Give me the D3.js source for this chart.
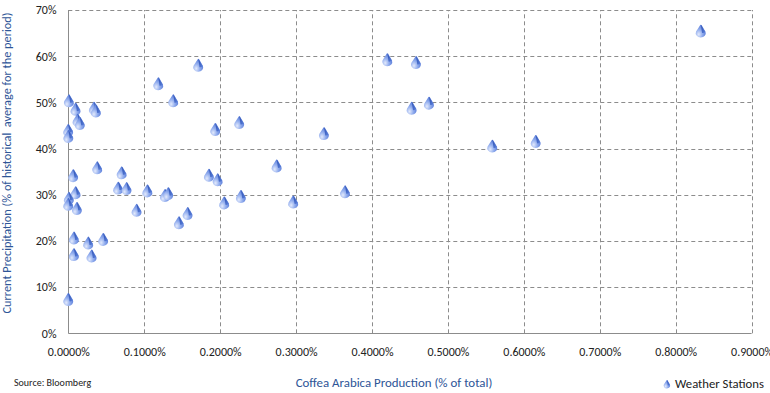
<!DOCTYPE html>
<html><head><meta charset="utf-8">
<script src="https://cdn.jsdelivr.net/npm/d3@7"></script>
<style>
body{margin:0;background:#fff;}
text{font-family:Carlito,Calibri,Lato,"Open Sans",sans-serif;}
</style></head>
<body><svg id="c" width="770" height="393"></svg>
<script>
const production = [0.0009,0.0097,0.0339,0.0365,0.0124,0.0154,0.0000,0.0002,0.0066,0.0382,0.0704,0.0659,0.0769,0.0097,0.0009,0.0001,0.0115,0.0075,0.0264,0.0461,0.0075,0.0308,0.0001,0.1043,0.1274,0.1318,0.0901,0.1458,0.1573,0.1186,0.1383,0.1713,0.1937,0.2253,0.1854,0.1968,0.2055,0.2275,0.2746,0.2964,0.3369,0.3646,0.4203,0.4581,0.4524,0.4752,0.5586,0.6158,0.8332];
const precipitation = [50.4,48.6,48.8,48.2,46.2,45.5,44.0,42.7,34.2,35.9,34.8,31.5,31.4,30.5,29.3,28.0,27.1,20.7,19.6,20.4,17.1,16.8,7.4,30.9,29.9,30.3,26.7,24.0,26.0,54.1,50.4,58.1,44.2,45.7,34.3,33.3,28.3,29.7,36.3,28.5,43.3,30.7,59.3,58.7,48.8,49.9,40.6,41.6,65.5];
const xTicks = [0,0.1,0.2,0.3,0.4,0.5,0.6,0.7,0.8,0.9];
const yTicks = [0,10,20,30,40,50,60,70];
const seriesName = "Weather Stations";
const xTitle = "Coffea Arabica Production (% of total)";
const yTitle = "Current Precipitation (% of historical  average for the period)";
const source = "Source: Bloomberg";

const svg = d3.select("#c");
const x = d3.scaleLinear().domain([0,0.9]).range([68.3,751.6]);
const y = d3.scaleLinear().domain([0,70]).range([333.3,10]);

const defs = svg.append("defs");
const rg = defs.append("radialGradient").attr("id","mg").attr("cx","0.3").attr("cy","0.75").attr("r","0.8");
rg.append("stop").attr("offset","0%").attr("stop-color","#e3eafc");
rg.append("stop").attr("offset","45%").attr("stop-color","#93aeee");
rg.append("stop").attr("offset","100%").attr("stop-color","#4f74d6");
const g2 = defs.append("linearGradient").attr("id","mg2").attr("x1","0").attr("y1","0").attr("x2","1").attr("y2","1");
g2.append("stop").attr("offset","0%").attr("stop-color","#2c4fae");
g2.append("stop").attr("offset","100%").attr("stop-color","#5b80dc");
const bl = defs.append("filter").attr("id","bl").attr("x","-30%").attr("y","-30%").attr("width","160%").attr("height","160%");
bl.append("feGaussianBlur").attr("stdDeviation","0.45");

// gridlines
const grid = svg.append("g");
grid.selectAll("line.h").data(yTicks.filter(d=>d>0)).join("line")
  .attr("x1",x(0)).attr("x2",x(0.9)).attr("y1",d=>Math.round(y(d))+0.5).attr("y2",d=>Math.round(y(d))+0.5)
  .attr("stroke","#8c8c8c").attr("stroke-dasharray","4,3");
grid.selectAll("line.v").data(xTicks.filter(d=>d>0)).join("line")
  .attr("y1",y(0)).attr("y2",y(70)).attr("x1",d=>Math.round(x(d))+0.5).attr("x2",d=>Math.round(x(d))+0.5)
  .attr("stroke","#8c8c8c").attr("stroke-dasharray","4,3");

// axes
const xAxis = svg.append("g").attr("transform",`translate(0,${Math.round(y(0))+0.5})`)
  .call(d3.axisBottom(x).tickValues(xTicks).tickSize(0).tickPadding(14).tickFormat(d=>d.toFixed(4)+"%"));
xAxis.select(".domain").attr("stroke","#8c8c8c").attr("d",`M${x(0)},0H${x(0.9)}`);
xAxis.selectAll("text").attr("font-size","12px").attr("fill","#222");
const yAxis = svg.append("g").attr("transform",`translate(${Math.round(x(0))+0.5},0)`)
  .call(d3.axisLeft(y).tickValues(yTicks).tickSize(0).tickPadding(12).tickFormat(d=>d+"%"));
yAxis.select(".domain").attr("stroke","#8c8c8c").attr("d",`M0,${y(0)}V${y(70)}`);
yAxis.selectAll("text").attr("font-size","12px").attr("fill","#222");

// markers: rounded cone
function marker(sel){
  const m = sel.append("g").attr("filter","url(#bl)");
  m.append("path").attr("d","M-0.6,-5.8 Q0,-6.6 0.8,-5.6 L4.6,1.0 A5,4.4 0 1 1 -4.8,0.8 Z").attr("fill","url(#mg)");
  m.append("path").attr("d","M0,-6.0 L4.4,1.2 Q3,2.6 1.2,2.2 Z").attr("fill","url(#mg2)");
}
const pts = production.map((p,i)=>({p, v:precipitation[i]}));
svg.append("g").selectAll("g").data(pts).join("g")
  .attr("transform",d=>`translate(${x(d.p)},${y(d.v)})`).call(marker);

// titles
svg.append("text").attr("x",394).attr("y",387).attr("text-anchor","middle").attr("font-size","12.9px").attr("fill","#2e5597").text(xTitle);
svg.append("text").attr("transform",`translate(11,163) rotate(-90)`).attr("text-anchor","middle").attr("font-size","12.3px").attr("fill","#2e5597").style("white-space","pre").text(yTitle);
svg.append("text").attr("x",14).attr("y",386).attr("font-size","10px").attr("fill","#222").text(source);

// legend
const lg = svg.append("g").attr("transform","translate(667,384) scale(0.65)");
marker(lg);
svg.append("text").attr("x",675).attr("y",388).attr("font-size","12.7px").attr("fill","#222").text(seriesName);
</script></body></html>
